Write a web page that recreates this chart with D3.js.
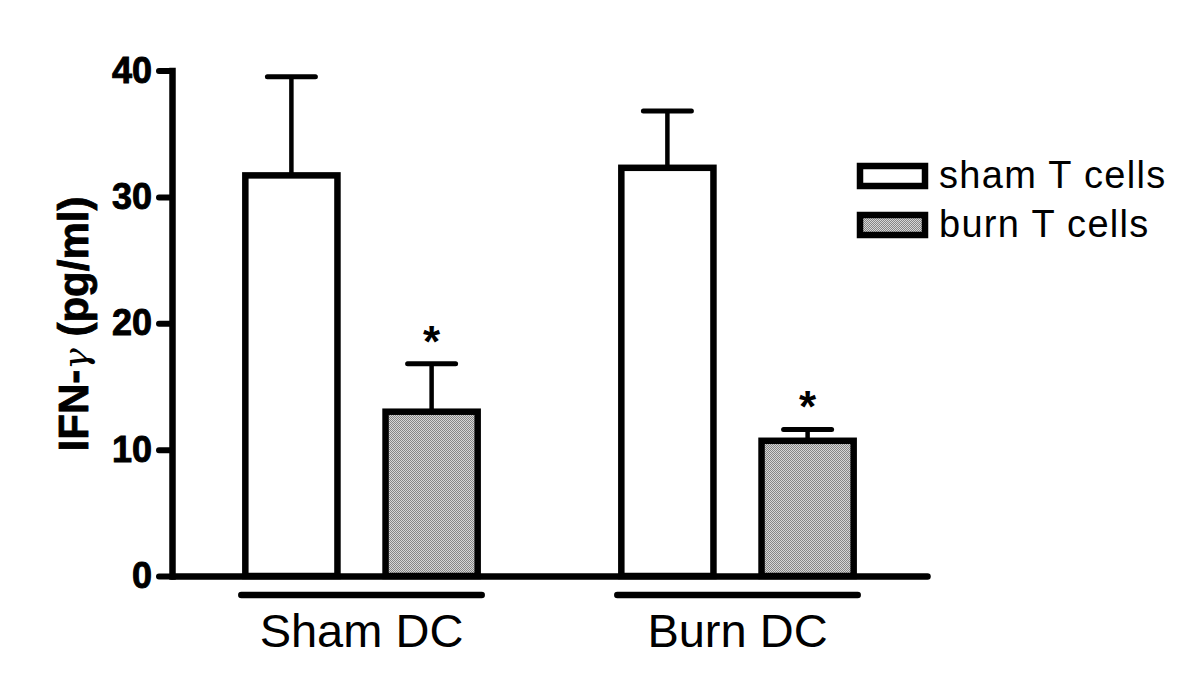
<!DOCTYPE html>
<html>
<head>
<meta charset="utf-8">
<script src="https://cdn.jsdelivr.net/npm/d3@7"></script>
<style>
  body{margin:0;background:#fff;}
  text{font-family:"Liberation Sans",Arial,sans-serif;}
</style>
</head>
<body>
<script>
/* chart data */
const groups = ["Sham DC","Burn DC"];
const series = ["sham T cells","burn T cells"];
const shamT = [31.7, 32.3];      // mean, per group
const shamTErr = [7.8, 4.5];     // error bar (up)
const burnT = [13.0, 10.7];
const burnTErr = [3.8, 0.9];
const burnTSig = [true, true];   // asterisk
const yTicks = [0,10,20,30,40];

var W = 1200, H = 698;
var svg = d3.select("body").append("svg")
  .attr("width",W).attr("height",H);

// dotted grey fill
var defs = svg.append("defs");
var pat = defs.append("pattern").attr("id","stip")
  .attr("width",2).attr("height",2).attr("patternUnits","userSpaceOnUse");
pat.append("rect").attr("width",2).attr("height",2).attr("fill","#d6d6d6");
pat.append("rect").attr("width",1).attr("height",1).attr("fill","#858585");
pat.append("rect").attr("x",1).attr("y",1).attr("width",1).attr("height",1).attr("fill","#858585");

var fills = {"sham T cells":"#fff","burn T cells":"url(#stip)"};

var y = d3.scaleLinear().domain([0,40]).range([576,70.5]);
var x0 = d3.scaleBand().domain(groups).range([172,927])
  .paddingInner(0.35).paddingOuter(0.179);
var x1 = d3.scaleBand().domain(series).range([0,x0.bandwidth()])
  .paddingInner(0.343).paddingOuter(0.043);

// flat rows
var rows = [];
groups.forEach(function(g,i){
  rows.push({g:g,s:series[0],v:shamT[i],e:shamTErr[i],sig:false});
  rows.push({g:g,s:series[1],v:burnT[i],e:burnTErr[i],sig:burnTSig[i]});
});

// error bars first (stem hidden under bar top)
var eb = svg.append("g");
eb.selectAll("line.stem").data(rows).enter().append("line")
  .attr("x1",function(d){return x0(d.g)+x1(d.s)+x1.bandwidth()/2;})
  .attr("x2",function(d){return x0(d.g)+x1(d.s)+x1.bandwidth()/2;})
  .attr("y1",function(d){return y(d.v);})
  .attr("y2",function(d){return y(d.v+d.e);})
  .attr("stroke","#000").attr("stroke-width",4.5);
eb.selectAll("line.cap").data(rows).enter().append("line")
  .attr("x1",function(d){return x0(d.g)+x1(d.s)+x1.bandwidth()/2-24;})
  .attr("x2",function(d){return x0(d.g)+x1(d.s)+x1.bandwidth()/2+24;})
  .attr("y1",function(d){return y(d.v+d.e);})
  .attr("y2",function(d){return y(d.v+d.e);})
  .attr("stroke","#000").attr("stroke-width",5).attr("stroke-linecap","round");

svg.append("g").selectAll("rect").data(rows).enter().append("rect")
  .attr("x",function(d){return x0(d.g)+x1(d.s);})
  .attr("y",function(d){return y(d.v);})
  .attr("width",x1.bandwidth())
  .attr("height",function(d){return y(0)-y(d.v);})
  .attr("fill",function(d){return fills[d.s];})
  .attr("stroke","#000").attr("stroke-width",6.5);

// asterisks
svg.append("g").selectAll("text").data(rows.filter(function(d){return d.sig;})).enter()
  .append("text")
  .attr("x",function(d){return x0(d.g)+x1(d.s)+x1.bandwidth()/2;})
  .attr("y",function(d){return y(d.v+d.e)-7;})
  .attr("text-anchor","middle")
  .attr("font-size",44).attr("font-weight","bold")
  .text("*");

// y axis
var gy = svg.append("g").attr("transform","translate(172,0)")
  .call(d3.axisLeft(y).tickValues(yTicks).tickSize(13).tickPadding(7).tickSizeOuter(0));
gy.select(".domain").attr("stroke","#000").attr("stroke-width",6.5).attr("stroke-linecap","square");
gy.selectAll(".tick line").attr("stroke","#000").attr("stroke-width",6).attr("stroke-linecap","round");
gy.selectAll(".tick text").attr("font-size",36).attr("font-weight","bold")
  .attr("fill","#000").attr("stroke","#000").attr("stroke-width",0.9)
  .style("font-family","'Liberation Sans',Arial,sans-serif");

// x axis
var gx = svg.append("g").attr("transform","translate(0,576)")
  .call(d3.axisBottom(x0).tickValues([]).tickSizeOuter(0));
gx.select(".domain").attr("stroke","#000").attr("stroke-width",6.5).attr("stroke-linecap","round");

// group bars + labels
var gl = svg.append("g");
gl.selectAll("line").data(groups).enter().append("line")
  .attr("x1",function(d){return x0(d)+2;})
  .attr("x2",function(d){return x0(d)+x0.bandwidth()-2;})
  .attr("y1",595).attr("y2",595)
  .attr("stroke","#000").attr("stroke-width",6.5).attr("stroke-linecap","round");
gl.selectAll("text").data(groups).enter().append("text")
  .attr("x",function(d){return x0(d)+x0.bandwidth()/2;})
  .attr("y",647)
  .attr("text-anchor","middle")
  .attr("font-size",47)
  .text(function(d){return d;});

// y title
var yt = svg.append("text")
  .attr("transform","translate(88,324)rotate(-90)")
  .attr("text-anchor","middle")
  .attr("font-size",42).attr("font-weight","bold")
  .attr("stroke","#000").attr("stroke-width",0.8);
yt.append("tspan").text("IFN-");
yt.append("tspan").attr("font-family","'DejaVu Serif',serif").attr("font-weight","normal")
  .attr("font-style","italic").attr("font-size",36).attr("stroke-width",0).text("\u03b3");
yt.append("tspan").text(" (pg/ml)");

// legend
var lg = svg.append("g").attr("transform","translate(860,166)");
var li = lg.selectAll("g").data(series).enter().append("g")
  .attr("transform",function(d,i){return "translate(0,"+(i*49)+")";});
li.append("rect").attr("width",65).attr("height",20)
  .attr("fill",function(d){return fills[d];})
  .attr("stroke","#000").attr("stroke-width",6.5);
li.append("text").attr("x",79).attr("y",22)
  .attr("font-size",38).attr("letter-spacing",1.3)
  .text(function(d){return d;});
</script>
</body>
</html>
